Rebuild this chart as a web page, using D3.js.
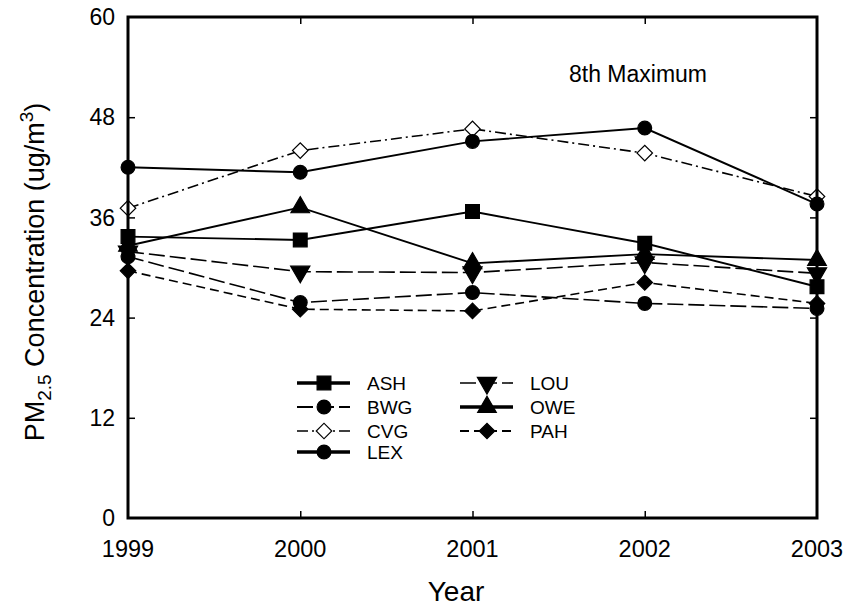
<!DOCTYPE html>
<html>
<head>
<meta charset="utf-8">
<script src="https://cdn.jsdelivr.net/npm/d3@7"></script>
<style>
  html, body { margin: 0; padding: 0; background: #fff; }
  svg { display: block; font-family: "Liberation Sans", Arial, Helvetica, sans-serif; }
</style>
</head>
<body>
<svg id="chart" width="844" height="610"></svg>
<script>
// PM2.5 8th-maximum concentration by monitoring site, 1999-2003
const years = [1999, 2000, 2001, 2002, 2003];
const yTicks = [0, 12, 24, 36, 48, 60];
const sites = ["ASH", "BWG", "CVG", "LEX", "LOU", "OWE", "PAH"];
const ASH = [33.7, 33.3, 36.7, 32.9, 27.7];
const BWG = [31.3, 25.8, 27.0, 25.7, 25.1];
const CVG = [37.1, 44.0, 46.6, 43.7, 38.5];
const LEX = [42.0, 41.4, 45.1, 46.7, 37.6];
const LOU = [31.9, 29.5, 29.4, 30.6, 29.3];
const OWE = [32.6, 37.2, 30.5, 31.6, 30.9];
const PAH = [29.6, 25.0, 24.8, 28.2, 25.7];
const values = { ASH, BWG, CVG, LEX, LOU, OWE, PAH };

// drawing style per site: marker kind, fill, dash pattern, legend line width
const styles = {
  ASH: { sym: "square",  size: 190, fill: "#000", dash: null, lw: 3.5 },
  BWG: { sym: "circle",  size: 150, fill: "#000", dash: "16,5", lw: 2 },
  CVG: { sym: "diamond", size: 120, fill: "#fff", dash: "11,4,2,4", lw: 1.6 },
  LEX: { sym: "circle",  size: 150, fill: "#000", dash: null, lw: 3.5 },
  LOU: { sym: "down",    size: 160, fill: "#000", dash: "16,5", lw: 1.6 },
  OWE: { sym: "up",      size: 150, fill: "#000", dash: null, lw: 3.5 },
  PAH: { sym: "diamond", size: 120, fill: "#000", dash: "9,5", lw: 2 }
};
const symbolTypes = {
  square: d3.symbolSquare, circle: d3.symbolCircle, diamond: d3.symbolSquare,
  up: d3.symbolTriangle, down: d3.symbolTriangle
};
const symbolRotate = { square: 0, circle: 0, diamond: 45, up: 0, down: 180 };

const svg = d3.select("#chart");
const plotL = 128, plotR = 817, plotT = 17, plotB = 518;

const x = d3.scaleLinear().domain([1999, 2003]).range([plotL, plotR]);
const y = d3.scaleLinear().domain([0, 60]).range([plotB, plotT]);

function markerPath(s) {
  return d3.symbol().type(symbolTypes[s.sym]).size(s.size)();
}
function markerTransform(s, px, py) {
  return `translate(${px},${py}) rotate(${symbolRotate[s.sym]})`;
}

// tick marks pointing inward on all four sides
const tickLen = 7;
const g = svg.append("g");
g.append("g").attr("transform", `translate(${plotL},0)`)
  .call(d3.axisRight(y).tickValues(yTicks.slice(1, -1)).tickSize(tickLen).tickFormat(""))
  .call(a => a.select(".domain").remove());
g.append("g").attr("transform", `translate(${plotR},0)`)
  .call(d3.axisLeft(y).tickValues(yTicks.slice(1, -1)).tickSize(tickLen).tickFormat(""))
  .call(a => a.select(".domain").remove());
g.append("g").attr("transform", `translate(0,${plotB})`)
  .call(d3.axisTop(x).tickValues(years.slice(1, -1)).tickSize(tickLen).tickFormat(""))
  .call(a => a.select(".domain").remove());
g.append("g").attr("transform", `translate(0,${plotT})`)
  .call(d3.axisBottom(x).tickValues(years.slice(1, -1)).tickSize(tickLen).tickFormat(""))
  .call(a => a.select(".domain").remove());
g.selectAll(".tick line").attr("stroke", "#000").attr("stroke-width", 1.5);

// tick labels
svg.append("g").selectAll("text").data(yTicks).join("text")
  .attr("x", plotL - 13).attr("y", d => y(d)).attr("dy", "0.36em")
  .attr("text-anchor", "end").attr("font-size", 23).text(d => d);
svg.append("g").selectAll("text").data(years).join("text")
  .attr("x", d => x(d)).attr("y", plotB + 39)
  .attr("text-anchor", "middle").attr("font-size", 23.5).text(d => d);

// series lines and markers
const line = d3.line().x((d, i) => x(years[i])).y(d => y(d));
sites.forEach(s => {
  const st = styles[s];
  svg.append("path").datum(values[s])
    .attr("d", line).attr("fill", "none").attr("stroke", "#000")
    .attr("stroke-width", st.dash ? 1.6 : 1.9)
    .attr("stroke-dasharray", st.dash);
});
sites.forEach(s => {
  const st = styles[s];
  svg.append("g").selectAll("path").data(values[s]).join("path")
    .attr("d", markerPath(st))
    .attr("transform", (d, i) => markerTransform(st, x(years[i]), y(d)))
    .attr("fill", st.fill).attr("stroke", "#000").attr("stroke-width", 1.2);
});

// frame
svg.append("rect").attr("x", plotL).attr("y", plotT)
  .attr("width", plotR - plotL).attr("height", plotB - plotT)
  .attr("fill", "none").attr("stroke", "#000").attr("stroke-width", 3);

// annotation
svg.append("text").attr("x", 569).attr("y", 82).attr("font-size", 23).text("8th Maximum");

// legend: two columns
const legendCols = [["ASH", "BWG", "CVG", "LEX"], ["LOU", "OWE", "PAH"]];
const colX = [297, 460];
const rowY = [383, 407, 431, 452];
legendCols.forEach((col, ci) => {
  col.forEach((s, ri) => {
    const st = styles[s];
    const x0 = colX[ci], yy = rowY[ri];
    svg.append("line").attr("x1", x0).attr("x2", x0 + 53).attr("y1", yy).attr("y2", yy)
      .attr("stroke", "#000").attr("stroke-width", st.lw).attr("stroke-dasharray", st.dash);
    svg.append("path").attr("d", markerPath(st))
      .attr("transform", markerTransform(st, x0 + 27, yy))
      .attr("fill", st.fill).attr("stroke", "#000").attr("stroke-width", 1.2);
    svg.append("text").attr("x", x0 + 70).attr("y", yy).attr("dy", "0.36em")
      .attr("font-size", 19).text(s);
  });
});

// axis titles
svg.append("text").attr("x", 456).attr("y", 601).attr("text-anchor", "middle")
  .attr("font-size", 28).text("Year");
const yt = svg.append("text")
  .attr("transform", `translate(44,272) rotate(-90)`)
  .attr("text-anchor", "middle").attr("font-size", 27);
yt.append("tspan").text("PM");
yt.append("tspan").attr("font-size", 19).attr("dy", 7).text("2.5");
yt.append("tspan").attr("dy", -7).text(" Concentration (ug/m");
yt.append("tspan").attr("font-size", 19).attr("dy", -11).text("3");
yt.append("tspan").attr("dy", 11).text(")");
</script>
</body>
</html>
